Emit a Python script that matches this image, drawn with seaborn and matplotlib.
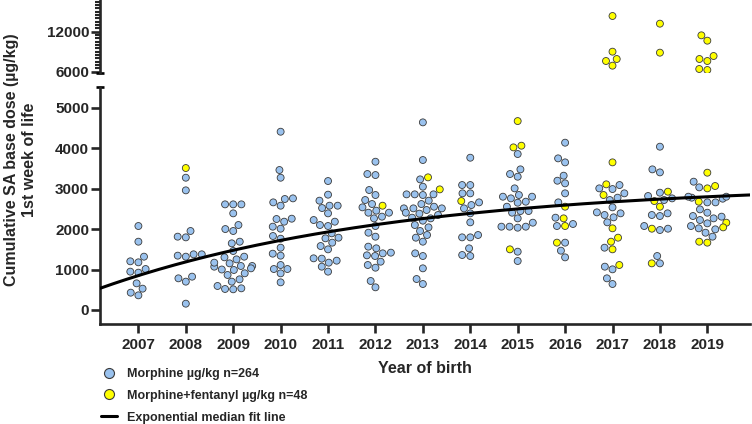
import numpy as np
import pandas as pd
import seaborn as sns
import matplotlib.pyplot as plt
from matplotlib.lines import Line2D

# Values (µg/kg), grouped by year of birth
morphine = {
    2007: [2074, 1687, 1202, 1317, 1177, 922, 1012, 947, 658, 527, 362, 428],
    2008: [3267, 2955, 1951, 1794, 1811, 1317, 1375, 1342, 1375, 700, 823,
           782, 156],
    2009: [2609, 2609, 2609, 2387, 2099, 1951, 1999, 1646, 1687, 1457, 1301,
           1317, 1087, 1070, 1087, 1152, 1169, 906, 988, 1029, 865, 700, 757,
           519, 535, 593, 511, 1250, 1000],
    2010: [4403, 3457, 3267, 2757, 2658, 2741, 2576, 2255, 2247, 2181, 2008,
           2058, 1761, 1827, 1539, 1342, 1391, 1111, 1012, 1012, 905, 683],
    2011: [3185, 2848, 2700, 2576, 2576, 2518, 2387, 2222, 2181, 2099, 2074,
           1893, 1786, 1770, 1663, 1580, 1498, 1276, 1268, 1218, 1169, 1070,
           947],
    2012: [3662, 3333, 3358, 2963, 2840, 2716, 2617, 2535, 2453, 2403, 2403,
           2305, 2263, 2074, 1811, 1909, 1564, 1523, 1416, 1399, 1333, 1350,
           1193, 1045, 1111, 716, 560],
    2013: [4634, 3704, 3226, 3045, 2856, 2856, 2856, 2840, 2551, 2617, 2510,
           2510, 2510, 2346, 2403, 2280, 2206, 2263, 2041, 2099, 1951, 1852,
           1786, 1687, 1333, 1399, 1029, 642, 765, 2700, 2470, 2380],
    2014: [3761, 3086, 3086, 2881, 2881, 2658, 2592, 2387, 2510, 2165, 1852,
           1794, 1794, 1523, 1333, 1358],
    2015: [3852, 3473, 3292, 3358, 3004, 2798, 2757, 2840, 2798, 2650, 2675,
           2551, 2444, 2444, 2403, 2263, 2156, 2058, 2058, 2058, 2033, 1440,
           1210],
    2016: [4132, 3646, 3745, 3317, 3128, 3193, 2881, 2658, 2280, 2124, 2074,
           1663, 1465, 1300],
    2017: [2987, 3004, 3086, 2881, 2716, 2774, 2535, 2346, 2387, 2411, 2288,
           2165, 1539, 1004, 1070, 642, 782],
    2018: [4033, 3399, 3473, 2815, 2897, 2716, 2757, 2387, 2321, 2346, 2074,
           1975, 2008, 1333, 1152],
    2019: [3169, 3029, 2749, 2774, 2798, 2798, 2658, 2658, 2485, 2403, 2305,
           2321, 2263, 2222, 2140, 2074, 2017, 1992, 1909, 1811],
}
fentanyl = {
    2008: [3506],
    2012: [2576],
    2013: [3276, 2979],
    2014: [2691],
    2015: [4666, 4058, 4016, 1498],
    2016: [2551, 2074, 2263, 1663],
    2017: [3646, 3103, 2840, 2017, 1786, 1687, 1498, 1111,
           14355, 9005, 7905, 7605, 6905],
    2018: [2922, 2691, 2551, 2008, 1152, 13205, 8855],
    2019: [3391, 3004, 3062, 2675, 2156, 2041, 1663, 1687,
           11455, 10655, 8355, 7905, 7605, 6255, 6405],
}
years = list(range(2007, 2020))

# Exponential median fit line parameters
fit_x0 = 2006.19
fit_y0 = 535
fit_plateau = 3131
fit_k = 0.16

label_m = "Morphine µg/kg n=264"
label_f = "Morphine+fentanyl µg/kg n=48"
label_fit = "Exponential median fit line"
blue = "#9AC2EE"
yellow = "#FFFF00"
edge = "#3a3a3a"

rows = []
for y, vals in morphine.items():
    rows += [(y, v, label_m) for v in vals]
for y, vals in fentanyl.items():
    rows += [(y, v, label_f) for v in vals]
df = pd.DataFrame(rows, columns=["year", "dose", "group"])
split = 5600
low = df[df["dose"] < split]
high = df[df["dose"] >= split]

sns.set_style("ticks")
plt.rcParams["font.family"] = ["Liberation Sans", "DejaVu Sans"]
plt.rcParams["font.weight"] = "bold"

fig = plt.figure(figsize=(7.52, 4.24), dpi=100)
W, H = 752, 424
ax_low = fig.add_axes([100 / W, 1 - 324 / H, 650 / W, (324 - 87.3) / H])
ax_up = fig.add_axes([100 / W, 1 - 73.3 / H, 650 / W, 73.3 / H])

pal = {label_m: blue, label_f: yellow}
for ax, part in [(ax_low, low), (ax_up, high)]:
    sns.swarmplot(data=part, x="year", y="dose", hue="group", palette=pal,
                  hue_order=[label_m, label_f], native_scale=True, orient="v",
                  size=5.0, linewidth=0.6, edgecolor=edge, ax=ax, legend=False,
                  zorder=3)

xs = np.linspace(2006.19, 2019.9, 200)
ax_low.plot(xs, fit_plateau - (fit_plateau - fit_y0) * np.exp(-fit_k * (xs - fit_x0)),
            color="black", lw=2.2, zorder=4)

for ax in (ax_low, ax_up):
    ax.set_xlim(2006.19, 2019.9)
    for s in ("top", "right"):
        ax.spines[s].set_visible(False)
    ax.spines["left"].set_linewidth(1.9)
    ax.set_xlabel("")
    ax.set_ylabel("")
    ax.tick_params(axis="both", which="major", length=6.3, width=1.9,
                   labelsize=11, pad=1.5)

ax_low.set_ylim(-346, 5500)
ax_low.set_yticks([0, 1000, 2000, 3000, 4000, 5000])
ax_low.set_xticks(years)
ax_low.spines["bottom"].set_linewidth(1.9)
ax_low.tick_params(axis="x", pad=4)
ax_low.set_xlabel("Year of birth", fontsize=11.5, fontweight="bold", labelpad=6)

ax_up.set_ylim(5760, 16755)
ax_up.set_yticks([6000, 12000])
ax_up.set_yticks(np.arange(6000, 16600, 500), minor=True)
ax_up.tick_params(axis="y", which="minor", length=3.5, width=1.5)
ax_up.spines["bottom"].set_visible(False)
ax_up.tick_params(axis="x", bottom=False, labelbottom=False)

# caps at the axis break
ax_low.plot([-0.006, 0.006], [1, 1], transform=ax_low.transAxes, color="black",
            lw=1.9, clip_on=False, solid_capstyle="butt")
ax_up.plot([-0.006, 0.006], [0, 0], transform=ax_up.transAxes, color="black",
           lw=1.9, clip_on=False, solid_capstyle="butt")

fig.text(0.027, 0.623, "Cumulative SA base dose (µg/kg)\n1st week of life",
         rotation=90, ha="center", va="center", ma="center",
         fontsize=11.5, fontweight="bold", linespacing=1.25)

handles = [
    Line2D([], [], ls="none", marker="o", ms=7.2, mfc=blue, mec=edge, mew=0.8),
    Line2D([], [], ls="none", marker="o", ms=7.2, mfc=yellow, mec=edge, mew=0.8),
    Line2D([], [], color="black", lw=2.2),
]
fig.legend(handles, [label_m, label_f, label_fit], loc="upper left",
           bbox_to_anchor=(101 / W, 1 - 368 / H), frameon=False, borderpad=0,
           borderaxespad=0, handlelength=1.3, handletextpad=0.8,
           labelspacing=0.78, prop={"size": 9, "weight": "bold"})

fig.savefig("out.png", dpi=100)
